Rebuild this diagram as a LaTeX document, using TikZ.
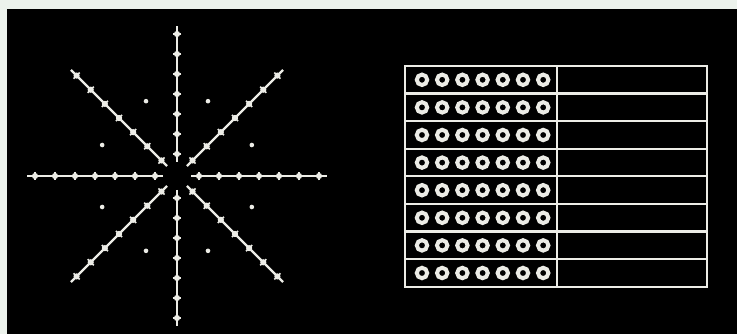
\documentclass[tikz,border=0pt]{standalone}
\usepackage{tikz}
\usepackage{xcolor}
\definecolor{chalk}{RGB}{236,236,230}
\definecolor{paper}{RGB}{236,242,236}
\usetikzlibrary{calc}

\begin{document}
\begin{tikzpicture}[
  x=1pt, y=-1pt,
  ray/.style={draw=chalk, line width=2.2pt},
  bead/.style={fill=chalk},
  tick/.style={draw=chalk, line width=1.6pt},
  grid/.style={draw=chalk, line width=2.2pt},
  ring/.style={draw=chalk, line width=4pt},
]
\useasboundingbox (0,0) rectangle (737,334);

% --- paper margin and black board ---
\fill[paper] (0,0) rectangle (737,334);
\fill[black] (7,9) rectangle (737,334);

% --- star of eight rays ---
\coordinate (hub) at (177,176);
\foreach \a in {0,45,...,315} {
  \draw[ray, shift={(hub)}] (\a:14) -- (\a:150);
  \foreach \k in {0,...,6} {
    \pgfmathsetmacro{\r}{22+20*\k}
    \draw[tick, shift={(hub)}] ($(\a:\r)+(\a+90:4.4)$) -- ($(\a:\r)+(\a-90:4.4)$);
    \fill[bead, shift={(hub)}] (\a:\r) circle (3.1);
  }
  % dots between the rays
  \fill[chalk, shift={(hub)}] (\a+22.5:81) circle (2.3);
}

% --- table of rings ---
\draw[grid] (405,66) rectangle (707,287);
\draw[grid] (557,66) -- (557,287);
\foreach \i in {1,...,7}
  \draw[grid] (405,66+27.6*\i) -- (707,66+27.6*\i);
\foreach \i in {0,...,7}
  \foreach \j in {0,...,6}
    \draw[ring] (422+20.2*\j,79.8+27.6*\i) circle (5.2);
\end{tikzpicture}
\end{document}
